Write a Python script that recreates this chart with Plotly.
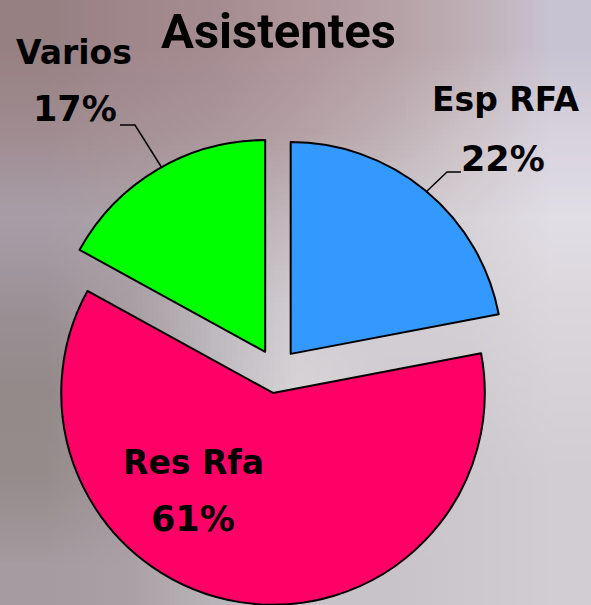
import base64
import struct
import zlib
import plotly.graph_objects as go

# ---------------- data ----------------
categories = ["Esp RFA", "Res Rfa", "Varios"]
values = [22, 61, 17]
slice_colors = ["#3399FF", "#FF0066", "#00FF00"]
chart_title = "Asistentes"

# ---------------- layout helpers ----------------
W, H = 591, 605


def px(x):
    return x / W


def py(y):
    return 1 - y / H


# blurred photo background approximated by a small colour grid (stretched smoothly)
bg_grid = [
    [(150, 128, 130), (160, 135, 140), (165, 140, 145), (175, 150, 155), (180, 160, 165), (190, 175, 180), (200, 195, 210)],
    [(160, 140, 145), (165, 145, 150), (170, 150, 155), (180, 160, 165), (190, 175, 180), (205, 195, 200), (215, 210, 220)],
    [(168, 158, 168), (172, 162, 167), (182, 172, 177), (195, 185, 190), (205, 200, 205), (215, 210, 215), (225, 222, 230)],
    [(155, 145, 150), (168, 158, 163), (190, 185, 190), (210, 205, 210), (210, 205, 210), (212, 208, 212), (220, 215, 220)],
    [(148, 138, 138), (160, 150, 155), (190, 185, 190), (215, 212, 215), (210, 205, 210), (208, 203, 208), (215, 210, 215)],
    [(150, 140, 140), (163, 153, 158), (180, 175, 180), (200, 195, 200), (205, 200, 205), (205, 200, 205), (210, 205, 210)],
    [(165, 155, 160), (170, 160, 165), (185, 180, 185), (200, 195, 200), (200, 195, 200), (205, 200, 205), (210, 205, 210)],
]


def make_png(grid):
    h = len(grid)
    w = len(grid[0])
    raw = b"".join(b"\x00" + bytes([c for p in row for c in p]) for row in grid)

    def chunk(tag, data):
        body = tag + data
        return struct.pack(">I", len(data)) + body + struct.pack(">I", zlib.crc32(body) & 0xFFFFFFFF)

    png = (b"\x89PNG\r\n\x1a\n"
           + chunk(b"IHDR", struct.pack(">IIBBBBB", w, h, 8, 2, 0, 0, 0))
           + chunk(b"IDAT", zlib.compress(raw))
           + chunk(b"IEND", b""))
    return "data:image/png;base64," + base64.b64encode(png).decode()


total = sum(values)
percents = [f"{round(v / total * 100)}%" for v in values]

fig = go.Figure(
    go.Pie(
        labels=categories,
        values=values,
        sort=False,
        direction="clockwise",
        rotation=0,
        pull=[0.105] * len(values),
        marker=dict(colors=slice_colors, line=dict(color="black", width=2)),
        textinfo="none",
        hoverinfo="label+percent",
        showlegend=False,
        domain=dict(x=[px(42.3), px(510.7)], y=[0, py(137)]),
    )
)

# label placement (pixel centres of name line and percent line)
label_pos = {
    "Esp RFA": ((505, 99.5), (503, 158.5)),
    "Res Rfa": ((193, 462.5), (193, 519)),
    "Varios": ((74, 52.5), (75, 109.5)),
}
leader_paths = {
    "Varios": [(120, 125), (135, 125), (162, 168)],
    "Esp RFA": [(461, 172), (447, 172), (426, 192)],
}

label_font = dict(family="DejaVu Sans", size=33, color="black", weight=700)
pct_font = dict(family="DejaVu Sans", size=35, color="black", weight=700)

annotations = [
    dict(text=chart_title, x=px(278.5), y=py(32), xref="paper", yref="paper",
         showarrow=False, xanchor="center", yanchor="middle",
         font=dict(family="Roboto", size=49, color="black", weight=700))
]
for name, pct in zip(categories, percents):
    (nx, ny), (qx, qy) = label_pos[name]
    annotations.append(dict(text=name, x=px(nx), y=py(ny), xref="paper", yref="paper",
                            showarrow=False, xanchor="center", yanchor="middle", font=label_font))
    annotations.append(dict(text=pct, x=px(qx), y=py(qy), xref="paper", yref="paper",
                            showarrow=False, xanchor="center", yanchor="middle", font=pct_font))

shapes = []
for name, pts in leader_paths.items():
    path = "M " + " L ".join(f"{px(x):.5f},{py(y):.5f}" for x, y in pts)
    shapes.append(dict(type="path", path=path, xref="paper", yref="paper",
                       line=dict(color="black", width=1.5)))

fig.update_layout(
    width=W,
    height=H,
    margin=dict(l=0, r=0, t=0, b=0),
    paper_bgcolor="#c4b8bc",
    plot_bgcolor="rgba(0,0,0,0)",
    annotations=annotations,
    shapes=shapes,
    images=[dict(source=make_png(bg_grid), xref="paper", yref="paper", x=0, y=1,
                 sizex=1, sizey=1, xanchor="left", yanchor="top", sizing="stretch",
                 layer="below")],
)

fig.write_html(
    "out.html",
    config={"displayModeBar": False},
    post_script="document.body.style.margin='0';document.body.style.overflow='hidden';",
)
